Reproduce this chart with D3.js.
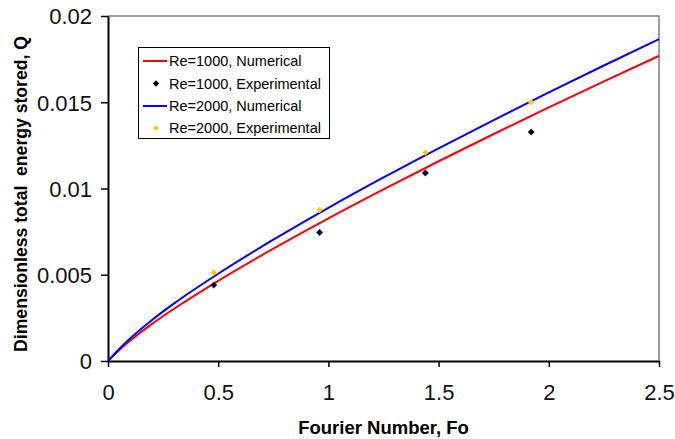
<!DOCTYPE html>
<html><head><meta charset="utf-8">
<script src="https://cdn.jsdelivr.net/npm/d3@7"></script>
<style>body{margin:0;background:#fff}svg{display:block}</style>
</head><body><svg id="c" width="675" height="439"></svg>
<script>
const foGrid = [0, 0.05, 0.1, 0.2, 0.3, 0.5, 0.75, 1, 1.25, 1.5, 1.75, 2, 2.25, 2.5];
const numRe1000 = [0, 0.00062, 0.00117, 0.00215, 0.00303, 0.00465, 0.00651, 0.00827, 0.00995, 0.01158, 0.01316, 0.0147, 0.01621, 0.01769];
const numRe2000 = [0, 0.00068, 0.00130, 0.00238, 0.00334, 0.00506, 0.00703, 0.00888, 0.01064, 0.01233, 0.01397, 0.01557, 0.01713, 0.01866];
const expFo = [0.48, 0.96, 1.44, 1.92];
const expRe1000 = [0.0044, 0.00745, 0.0109, 0.01327];
const expRe2000 = [0.00513, 0.00875, 0.01208, 0.0150];
const xTicks = [0, 0.5, 1, 1.5, 2, 2.5];
const yTicks = [0, 0.005, 0.01, 0.015, 0.02];
const legendLabels = ["Re=1000, Numerical", "Re=1000, Experimental", "Re=2000, Numerical", "Re=2000, Experimental"];

const svg = d3.select("#c");
const L = 108, R = 659, T = 16, B = 361;
const x = d3.scaleLinear().domain([0, 2.5]).range([L, R]);
const y = d3.scaleLinear().domain([0, 0.02]).range([B, T]);
const font = "Arial, 'Liberation Sans', sans-serif";

// plot border (top & right)
svg.append("path").attr("d", `M${L},${T}H${R}V${B}`).attr("fill", "none").attr("stroke", "#808080").attr("stroke-width", 1.5);

const xAxis = svg.append("g").attr("transform", `translate(0,${B})`)
  .call(d3.axisBottom(x).tickValues(xTicks).tickFormat(d3.format("")).tickSize(6).tickSizeOuter(0));
const yAxis = svg.append("g").attr("transform", `translate(${L},0)`)
  .call(d3.axisLeft(y).tickValues(yTicks).tickFormat(d => d === 0 ? "0" : String(+d.toFixed(3))).tickSize(7).tickSizeOuter(0));
[xAxis, yAxis].forEach(g => {
  g.select(".domain").attr("stroke", "#000").attr("stroke-width", 2);
  g.selectAll(".tick line").attr("stroke", "#000").attr("stroke-width", 1.5);
  g.selectAll("text").attr("fill", "#111").style("font-family", font).style("font-size", "22px");
});
xAxis.selectAll("text").attr("y", 39).attr("dy", null);
yAxis.selectAll("text").attr("x", -16).attr("dy", "0.36em");

const line = d3.line().x((d, i) => x(foGrid[i])).y(d => y(d)).curve(d3.curveMonotoneX);
svg.append("path").datum(numRe1000).attr("d", line).attr("fill", "none").attr("stroke", "#ff0000").attr("stroke-width", 2);
svg.append("path").datum(numRe2000).attr("d", line).attr("fill", "none").attr("stroke", "#0000ff").attr("stroke-width", 2);

const diamond = d3.symbol().type(d3.symbolDiamond2);
svg.selectAll(".e1").data(expRe1000).join("path").attr("class", "e1")
  .attr("d", diamond.size(30)).attr("fill", "#000040")
  .attr("transform", (d, i) => `translate(${x(expFo[i])},${y(d)})`);
svg.selectAll(".e2").data(expRe2000).join("path").attr("class", "e2")
  .attr("d", diamond.size(26)).attr("fill", "#ffcc00")
  .attr("transform", (d, i) => `translate(${x(expFo[i])},${y(d)})`);

// axis titles
svg.append("text").attr("x", (L + R) / 2).attr("y", 434).attr("text-anchor", "middle")
  .style("font-family", font).style("font-weight", "bold").style("font-size", "18.5px").text("Fourier Number, Fo");
svg.append("text").attr("transform", `translate(27,194) rotate(-90)`).attr("text-anchor", "middle")
  .style("font-family", font).style("font-weight", "bold").style("font-size", "17.6px").style("white-space", "pre")
  .text("Dimensionless total  energy stored, Q");

// legend
const lg = svg.append("g");
lg.append("rect").attr("x", 138.5).attr("y", 47.5).attr("width", 191).attr("height", 91)
  .attr("fill", "#fff").attr("stroke", "#000").attr("stroke-width", 1);
const rowY = [61, 83.5, 106, 128];
const kinds = ["line", "pt", "line", "pt"];
const cols = ["#ff0000", "#000040", "#0000ff", "#ffcc00"];
legendLabels.forEach((lab, i) => {
  if (kinds[i] === "line") {
    lg.append("line").attr("x1", 143).attr("x2", 167).attr("y1", rowY[i]).attr("y2", rowY[i]).attr("stroke", cols[i]).attr("stroke-width", 2);
  } else {
    lg.append("path").attr("d", diamond.size(i === 1 ? 26 : 22)).attr("fill", cols[i]).attr("transform", `translate(156,${rowY[i]})`);
  }
  lg.append("text").attr("x", 169).attr("y", rowY[i]).attr("dy", "0.36em")
    .style("font-family", font).style("font-size", "14.5px").text(lab);
});
</script></body></html>
